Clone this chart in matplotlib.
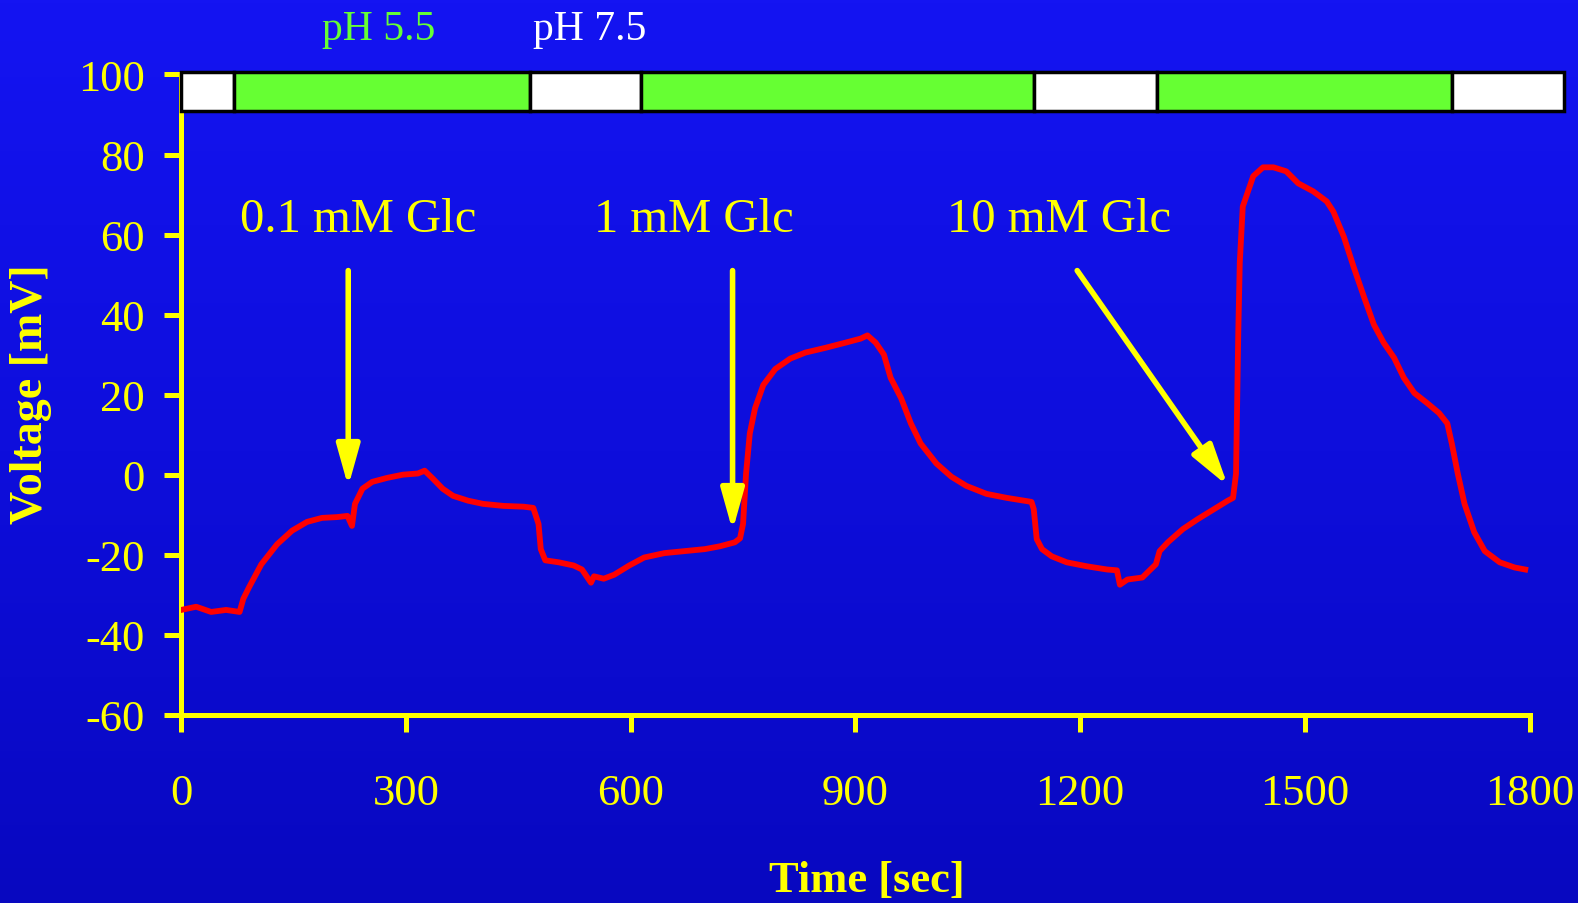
import numpy as np
import matplotlib
matplotlib.use("Agg")
import matplotlib.pyplot as plt
from matplotlib.colors import LinearSegmentedColormap

plt.rcParams['font.family'] = ['Liberation Serif', 'DejaVu Serif']
plt.rcParams['axes.unicode_minus'] = False

# ---- data -------------------------------------------------------------
time_s = [0, 20, 40, 60, 78, 83, 91, 107, 128, 148, 168, 188, 208, 222, 228,
          232, 242, 255, 275, 296, 316, 325, 336, 349, 363, 383, 403, 430, 457,
          470, 477, 480, 486, 504, 524, 535, 547, 551, 564, 578, 598, 618, 645,
          672, 699, 719, 739, 746, 750, 754, 759, 766, 777, 793, 813, 833, 860,
          887, 907, 916, 927, 938, 947, 961, 974, 987, 1008, 1028, 1048, 1075,
          1102, 1135, 1138, 1142, 1149, 1162, 1182, 1209, 1236, 1249, 1253,
          1263, 1283, 1290, 1301, 1306, 1317, 1337, 1357, 1377, 1397, 1404,
          1408, 1411, 1413, 1417, 1424, 1431, 1444, 1458, 1475, 1491, 1511,
          1529, 1538, 1552, 1565, 1579, 1592, 1605, 1619, 1632, 1646, 1663,
          1679, 1690, 1696, 1704, 1713, 1726, 1740, 1760, 1780, 1794]
voltage_mV = [-33.8, -33.0, -34.3, -33.8, -34.3, -31, -28, -22.4, -17.4, -14,
              -11.8, -10.8, -10.6, -10.3, -12.8, -7.3, -3.5, -1.8, -0.8, 0, 0.3,
              1.0, -1, -3.5, -5.3, -6.5, -7.3, -7.8, -8, -8.3, -12.3, -18.6,
              -21.4, -21.9, -22.7, -23.7, -27, -25.4, -26, -25, -22.7, -20.7,
              -19.6, -19.1, -18.6, -17.9, -16.9, -15.9, -12.3, 0.25, 10.3, 16.6,
              22.4, 26.4, 29, 30.5, 31.7, 33, 34, 34.8, 33, 30, 24.2, 19.1, 12.8,
              7.8, 2.8, -0.5, -2.8, -4.8, -5.8, -6.8, -8.6, -16.1, -18.6, -20.4,
              -21.9, -22.9, -23.7, -23.9, -27.5, -26.2, -25.7, -24.4, -22.4,
              -19.1, -16.9, -13.6, -11.1, -8.8, -6.5, -5.8, 0.25, 35.5, 53, 67,
              70.8, 74.6, 76.8, 76.8, 75.8, 72.8, 70.8, 68.3, 65.7, 59.4, 51.9,
              44.3, 37.5, 33, 29.2, 24.2, 20.4, 17.9, 15.4, 12.8, 7.8, 0.25,
              -7.3, -14.4, -19.1, -21.9, -23.2, -23.7]

# pH bar segments (time boundaries) and their colours
ph_edges = [0, 70, 465, 614, 1139, 1302, 1696, 1846]
ph_colors = ['white', '#66ff33', 'white', '#66ff33', 'white', '#66ff33', 'white']

# glucose annotations: label, label position, arrow start, arrow tip
glc_labels = ['0.1 mM Glc', '1 mM Glc', '10 mM Glc']
glc_label_t = [236, 685, 1172]
glc_label_v = [64, 64, 64]
glc_arrow_start = [(223, 51), (736, 51), (1196, 51)]
glc_arrow_tip = [(223, -3), (736, -14), (1397, -2.8)]

x_ticks = [0, 300, 600, 900, 1200, 1500, 1800]
y_ticks = [-60, -40, -20, 0, 20, 40, 60, 80, 100]

YEL = '#ffff00'

# ---- figure -----------------------------------------------------------
fig = plt.figure(figsize=(15.78, 9.04), dpi=100)

# background gradient
bg = fig.add_axes([0, 0, 1, 1], zorder=-10)
cmap = LinearSegmentedColormap.from_list('bgblue', ['#0808c0', '#0e0edc', '#1414f2'])
grad = np.linspace(0, 1, 256).reshape(-1, 1)
bg.imshow(grad, aspect='auto', cmap=cmap, origin='lower', extent=[0, 1, 0, 1])
bg.set_axis_off()

ax = fig.add_axes([0.1148, 0.2082, 0.9694 - 0.1148, 0.9165 - 0.2082])
ax.patch.set_alpha(0)
ax.set_xlim(0, 1800)
ax.set_ylim(-60, 100)

ax.plot(time_s, voltage_mV, color='#ff0000', lw=4.2, solid_joinstyle='round', zorder=3)

for sp in ['top', 'right']:
    ax.spines[sp].set_visible(False)
for sp in ['left', 'bottom']:
    ax.spines[sp].set_color(YEL)
    ax.spines[sp].set_linewidth(3.6)

ax.set_xticks(x_ticks)
ax.set_yticks(y_ticks)
ax.tick_params(axis='both', colors=YEL, width=3.6, length=12, labelsize=32)
ax.tick_params(axis='x', pad=30)
ax.tick_params(axis='y', pad=14)

# pH bar
for i, c in enumerate(ph_colors):
    ax.bar(ph_edges[i], 9.5, width=ph_edges[i + 1] - ph_edges[i], bottom=91,
           align='edge', color=c, edgecolor='black', linewidth=2.5,
           clip_on=False, zorder=4)

# annotations
for lab, lt, lv, st, tp in zip(glc_labels, glc_label_t, glc_label_v,
                               glc_arrow_start, glc_arrow_tip):
    ax.text(lt, lv, lab, color=YEL, fontsize=35, ha='center', va='center')
    ax.annotate('', xy=tp, xytext=st,
                arrowprops=dict(arrowstyle='-|>,head_length=1.0,head_width=0.28',
                                color=YEL, lw=4, mutation_scale=25,
                                shrinkA=0, shrinkB=0))

fig.text(0.2398, 0.9666, 'pH 5.5', color='#66ff33', fontsize=30,
         ha='center', va='center')
fig.text(0.3737, 0.9666, 'pH 7.5', color='white', fontsize=30,
         ha='center', va='center')

fig.text(0.0195, 0.5635, 'Voltage [mV]', color=YEL, fontsize=33,
         fontweight='bold', rotation=90, ha='center', va='center')
fig.text(0.549, 0.0256, 'Time [sec]', color=YEL, fontsize=32,
         fontweight='bold', ha='center', va='center')

fig.savefig('out.png', dpi=100)
